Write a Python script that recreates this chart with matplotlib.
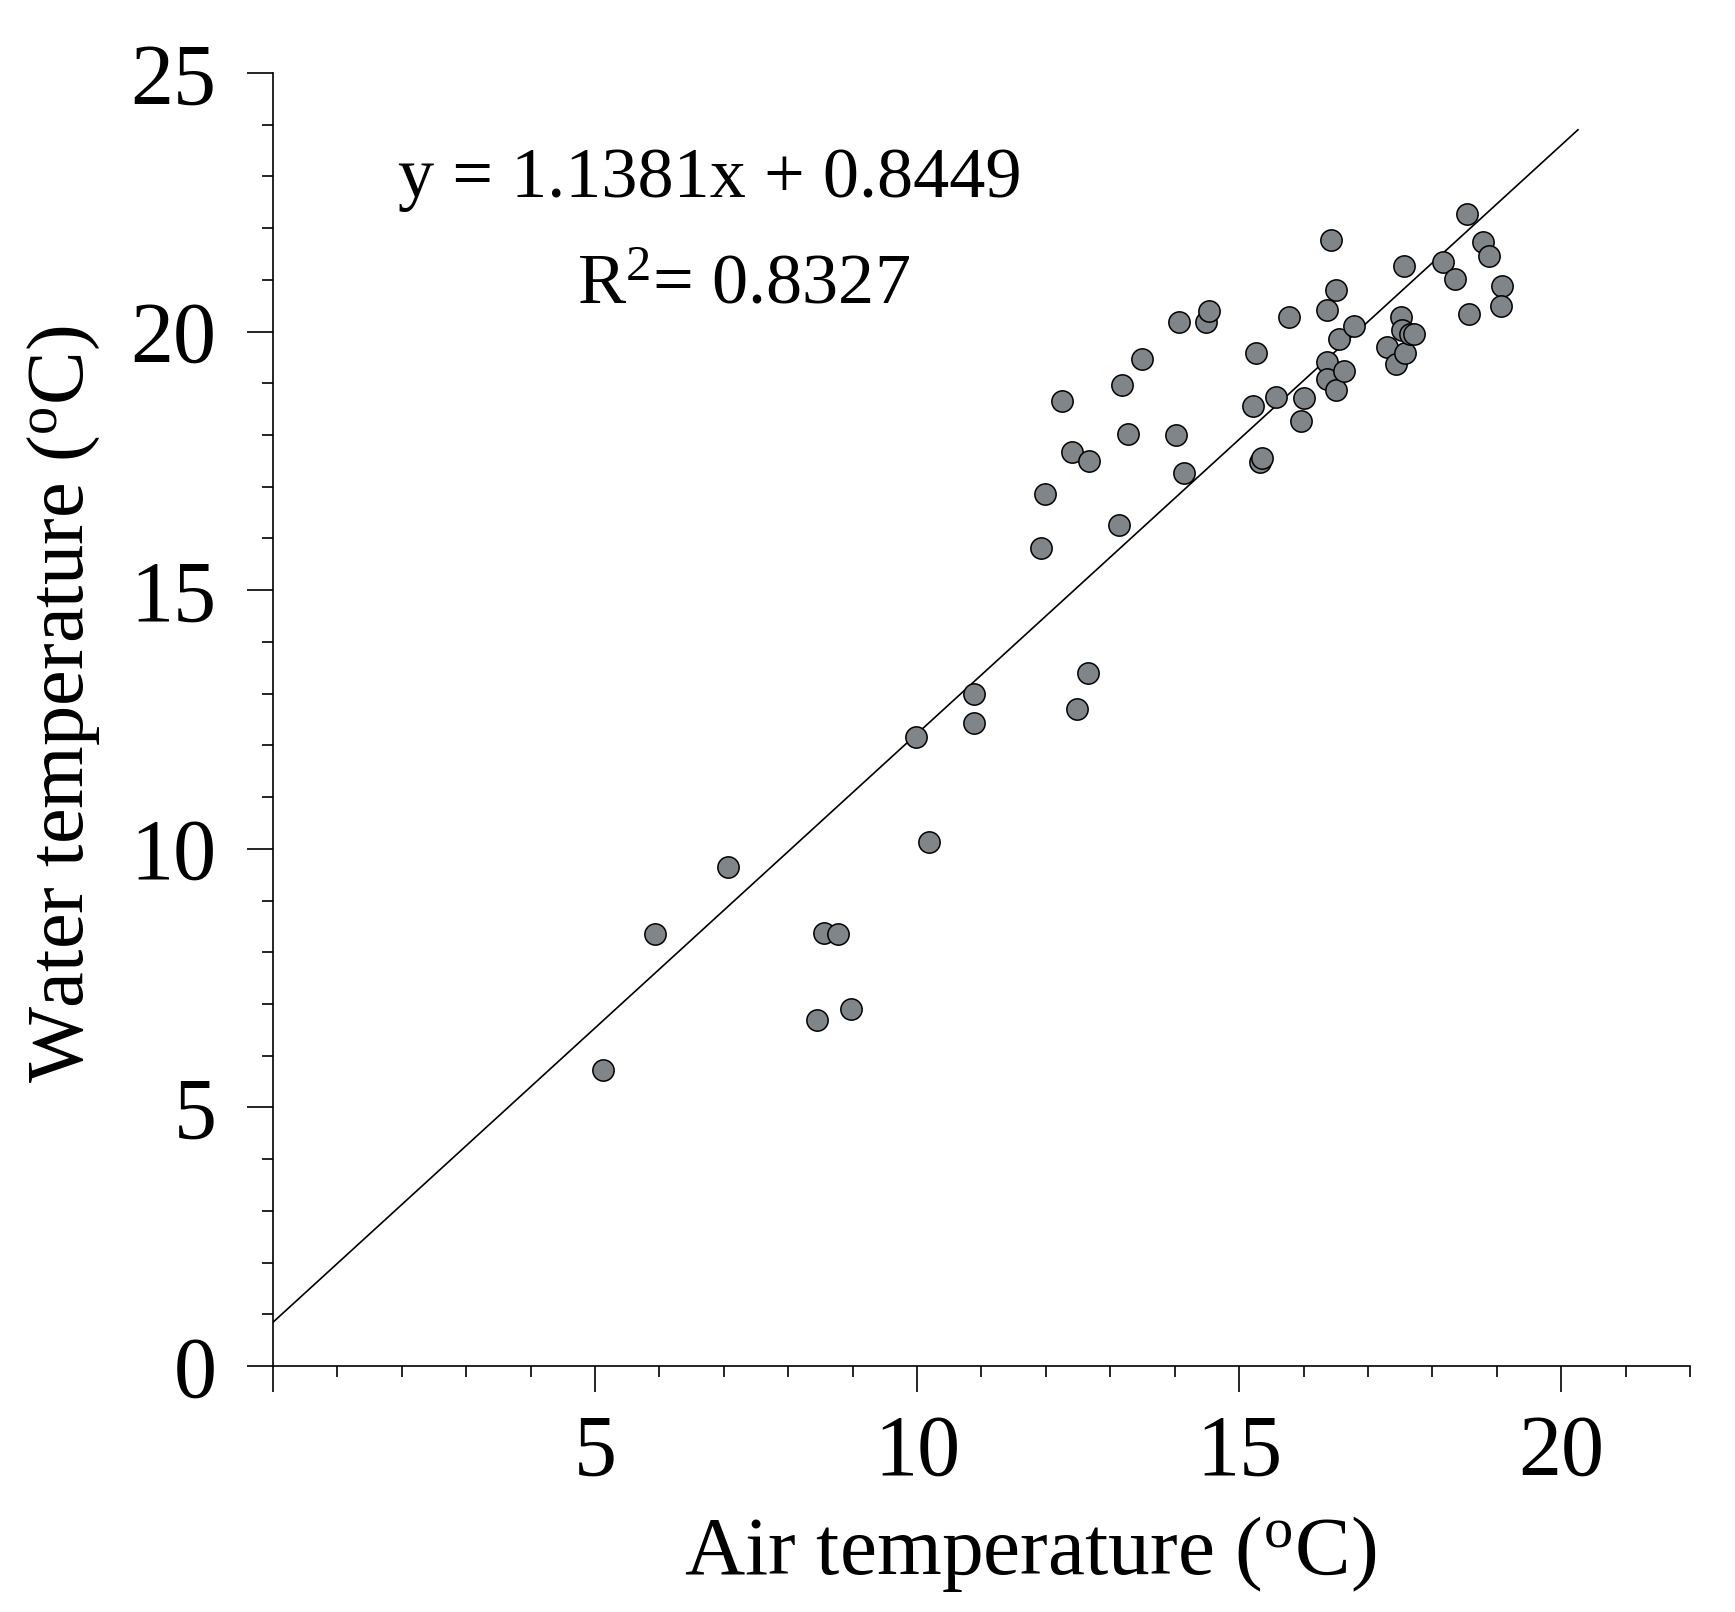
import matplotlib
matplotlib.use("Agg")
import matplotlib.pyplot as plt
import numpy as np
from matplotlib.ticker import MultipleLocator, FuncFormatter

plt.rcParams['font.family'] = ['Liberation Serif', 'DejaVu Serif']
plt.rcParams['mathtext.fontset'] = 'custom'
plt.rcParams['mathtext.rm'] = 'Liberation Serif'
plt.rcParams['mathtext.it'] = 'Liberation Serif:italic'

# air temperature (x) and water temperature (y)
air = [5.12, 5.93, 7.06, 8.44, 8.56, 8.78, 8.97, 9.98, 10.19, 10.89,
       10.89, 11.93, 11.98, 12.25, 12.41, 12.67, 12.49, 12.65, 13.13, 13.18,
       13.28, 13.49, 14.02, 14.07, 14.15, 14.48, 14.53, 15.22, 15.26, 15.33,
       15.35, 15.57, 15.77, 15.96, 16.01, 16.36, 16.37, 16.36, 16.43, 16.51,
       16.51, 16.55, 16.63, 16.78, 17.30, 17.43, 17.51, 17.56, 17.53, 17.58,
       17.65, 17.71, 18.16, 18.35, 18.53, 18.57, 18.79, 18.88, 19.08, 19.07]
water = [5.72, 8.36, 9.65, 6.69, 8.38, 8.36, 6.90, 12.16, 10.14, 12.99,
         12.44, 15.82, 16.86, 18.66, 17.68, 17.49, 12.71, 13.40, 16.26, 18.96,
         18.03, 19.48, 18.00, 20.18, 17.26, 20.18, 20.40, 18.57, 19.58, 17.48,
         17.56, 18.73, 20.28, 18.27, 18.71, 20.42, 19.41, 19.08, 21.77, 20.81,
         18.87, 19.86, 19.24, 20.11, 19.70, 19.37, 20.28, 21.26, 20.04, 19.59,
         19.96, 19.96, 21.35, 21.01, 22.27, 20.34, 21.73, 21.47, 20.88, 20.50]

# regression shown in the figure
slope = 1.1381
intercept = 0.8449
r2 = 0.8327
fit_x = [0, 20.26]

fig = plt.figure(figsize=(17.35, 16.12), dpi=100)
ax = fig.add_axes([0.1573, 0.1526, 0.8168, 0.8021])

fx = np.array(fit_x)
ax.plot(fx, slope * fx + intercept, color='black', lw=1.2, zorder=2)
ax.scatter(air, water, s=235, facecolor='#80858a', edgecolor='black',
           linewidth=1.1, zorder=3)

ax.set_xlim(0, 22)
ax.set_ylim(0, 25)
for side in ['top', 'right']:
    ax.spines[side].set_visible(False)
for side in ['left', 'bottom']:
    ax.spines[side].set_linewidth(1.2)

ax.xaxis.set_major_locator(MultipleLocator(5))
ax.xaxis.set_minor_locator(MultipleLocator(1))
ax.yaxis.set_major_locator(MultipleLocator(5))
ax.yaxis.set_minor_locator(MultipleLocator(1))
ax.xaxis.set_major_formatter(FuncFormatter(lambda v, p: '' if v == 0 else '%g' % v))
ax.tick_params(which='major', direction='out', length=18.5, width=1.2, labelsize=62)
ax.tick_params(which='minor', direction='out', length=8, width=1.2)
ax.tick_params(axis='x', which='major', pad=16)
ax.tick_params(axis='y', which='major', pad=22)

ax.set_xlabel(r'Air temperature ($^{\rm o}$C)', fontsize=60, va='baseline')
ax.xaxis.set_label_coords(0.534, -0.161)
ax.set_ylabel(r'Water temperature ($^{\rm o}$C)', fontsize=58,
              rotation=90, rotation_mode='anchor', ha='center', va='baseline')
ax.yaxis.set_label_coords(-0.134, 0.512)

ax.text(0.0882, 0.904, 'y = %.4fx + %.4f' % (slope, intercept),
        transform=ax.transAxes, fontsize=52, ha='left', va='baseline')
ax.text(0.2145, 0.822, r'R$^{\rm 2}$= %.4f' % r2,
        transform=ax.transAxes, fontsize=52, ha='left', va='baseline')

fig.savefig('out.png', dpi=100)
